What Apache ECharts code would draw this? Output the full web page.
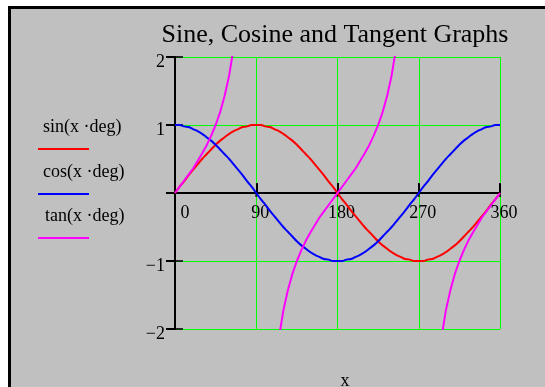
<!DOCTYPE html>
<html>
<head>
<meta charset="utf-8">
<script src="https://cdn.jsdelivr.net/npm/echarts@6/dist/echarts.min.js"></script>
<style>
  html, body { margin: 0; padding: 0; background: #fff; }
  .holder { position: relative; width: 545px; height: 387px; overflow: hidden; }
  .frame {
    position: absolute; left: 8px; top: 6px; right: 0; bottom: 0;
    border-left: 3px solid #000; border-top: 3px solid #000;
    background-color: #c0c0c0;
  }
  #trig-chart { position: absolute; left: 0; top: 0; width: 545px; height: 387px; }
</style>
</head>
<body>
<div class="holder">
  <div class="frame"></div>
  <div id="trig-chart"></div>
</div>
<script>
// x in degrees, 5 degree steps
var degrees = [
  0, 5, 10, 15, 20, 25, 30, 35, 40, 45, 50, 55, 60, 65, 70, 75, 80, 85,
  90, 95, 100, 105, 110, 115, 120, 125, 130, 135, 140, 145, 150, 155, 160, 165, 170, 175,
  180, 185, 190, 195, 200, 205, 210, 215, 220, 225, 230, 235, 240, 245, 250, 255, 260, 265,
  270, 275, 280, 285, 290, 295, 300, 305, 310, 315, 320, 325, 330, 335, 340, 345, 350, 355,
  360
];
var sinValues = [
  0, 0.09, 0.17, 0.26, 0.34, 0.42, 0.5, 0.57, 0.64, 0.71, 0.77, 0.82, 0.87, 0.91, 0.94, 0.97, 0.98, 1.0,
  1, 1.0, 0.98, 0.97, 0.94, 0.91, 0.87, 0.82, 0.77, 0.71, 0.64, 0.57, 0.5, 0.42, 0.34, 0.26, 0.17, 0.09,
  0, -0.09, -0.17, -0.26, -0.34, -0.42, -0.5, -0.57, -0.64, -0.71, -0.77, -0.82, -0.87, -0.91, -0.94, -0.97, -0.98, -1.0,
  -1, -1.0, -0.98, -0.97, -0.94, -0.91, -0.87, -0.82, -0.77, -0.71, -0.64, -0.57, -0.5, -0.42, -0.34, -0.26, -0.17, -0.09,
  0
];
var cosValues = [
  1, 1.0, 0.98, 0.97, 0.94, 0.91, 0.87, 0.82, 0.77, 0.71, 0.64, 0.57, 0.5, 0.42, 0.34, 0.26, 0.17, 0.09,
  0, -0.09, -0.17, -0.26, -0.34, -0.42, -0.5, -0.57, -0.64, -0.71, -0.77, -0.82, -0.87, -0.91, -0.94, -0.97, -0.98, -1.0,
  -1, -1.0, -0.98, -0.97, -0.94, -0.91, -0.87, -0.82, -0.77, -0.71, -0.64, -0.57, -0.5, -0.42, -0.34, -0.26, -0.17, -0.09,
  0, 0.09, 0.17, 0.26, 0.34, 0.42, 0.5, 0.57, 0.64, 0.71, 0.77, 0.82, 0.87, 0.91, 0.94, 0.97, 0.98, 1.0,
  1
];
// null = asymptote, line is broken there
var tanValues = [
  0, 0.09, 0.18, 0.27, 0.36, 0.47, 0.58, 0.70, 0.84, 1.0, 1.19, 1.43, 1.73, 2.14, 2.75, 3.73, 5.67, 11.43,
  null, -11.43, -5.67, -3.73, -2.75, -2.14, -1.73, -1.43, -1.19, -1.0, -0.84, -0.70, -0.58, -0.47, -0.36, -0.27, -0.18, -0.09,
  0, 0.09, 0.18, 0.27, 0.36, 0.47, 0.58, 0.70, 0.84, 1.0, 1.19, 1.43, 1.73, 2.14, 2.75, 3.73, 5.67, 11.43,
  null, -11.43, -5.67, -3.73, -2.75, -2.14, -1.73, -1.43, -1.19, -1.0, -0.84, -0.70, -0.58, -0.47, -0.36, -0.27, -0.18, -0.09,
  0
];
var xTicks = [90, 180, 270, 360];
var yTicks = [-2, -1, 1, 2];
var seriesNames = ["sin(x ·deg)", "cos(x ·deg)", "tan(x ·deg)"];
var seriesColors = ["#ff0000", "#0000ff", "#ff00ff"];
var titleText = "Sine, Cosine and Tangent Graphs";
var xName = "x";

var serif = '"Liberation Serif", "Times New Roman", serif';

function pairs(vals) {
  var out = [];
  for (var i = 0; i < degrees.length; i++) {
    out.push([degrees[i], vals[i]]);
  }
  return out;
}

var chart = echarts.init(document.getElementById("trig-chart"), null, { renderer: "canvas" });

var legendGraphics = [];
var legendY = [127, 172, 216];
var legendX = [43, 43, 45];
for (var k = 0; k < seriesNames.length; k++) {
  legendGraphics.push({
    type: "text",
    x: legendX[k],
    y: legendY[k],
    style: { text: seriesNames[k], font: "18px " + serif, fill: "#000", align: "left", verticalAlign: "middle" }
  });
  legendGraphics.push({
    type: "line",
    shape: { x1: 38, y1: legendY[k] + 22, x2: 89, y2: legendY[k] + 22 },
    style: { stroke: seriesColors[k], lineWidth: 2 }
  });
}

var gridH = 272;

var option = {
  animation: false,
  backgroundColor: "transparent",
  grid: { left: 175, top: 57, width: 325, height: gridH, containLabel: false },
  graphic: [
    {
      type: "text",
      x: 335,
      y: 35,
      style: { text: titleText, font: "26px " + serif, fill: "#000", align: "center", verticalAlign: "middle" }
    },
    {
      type: "text",
      x: 345,
      y: 381,
      style: { text: xName, font: "18px " + serif, fill: "#000", align: "center", verticalAlign: "middle" }
    }
  ].concat(legendGraphics),
  xAxis: {
    type: "value",
    min: 0,
    max: 360,
    interval: 90,
    position: "bottom",
    // move the axis up to y = 0 (middle of the grid)
    offset: -gridH / 2,
    axisLine: { onZero: false, lineStyle: { color: "#000", width: 2 } },
    axisTick: { show: true, inside: true, length: 10, lineStyle: { color: "#000", width: 2 } },
    axisLabel: {
      margin: 11,
      color: "#000",
      fontFamily: serif,
      fontSize: 18,
      formatter: function (v) {
        return v === 0 ? "{z|0}" : "{n|" + v + "}";
      },
      rich: {
        z: { fontFamily: serif, fontSize: 18, color: "#000", padding: [0, 0, 0, 20] },
        n: { fontFamily: serif, fontSize: 18, color: "#000", padding: [0, 0, 0, 8] }
      }
    },
    splitLine: { show: true, lineStyle: { color: "#00ff00", width: 1 } }
  },
  yAxis: {
    type: "value",
    min: -2,
    max: 2,
    interval: 1,
    axisLine: { onZero: false, lineStyle: { color: "#000", width: 2 } },
    axisTick: { show: true, inside: false, length: 9, lineStyle: { color: "#000", width: 2 } },
    axisLabel: {
      margin: 10,
      color: "#000",
      fontFamily: serif,
      fontSize: 18,
      verticalAlign: "top",
      lineHeight: 10,
      formatter: function (v) {
        if (v === 0) return "";
        return v < 0 ? "\u2212" + Math.abs(v) : String(v);
      }
    },
    splitLine: { show: true, lineStyle: { color: "#00ff00", width: 1 } }
  },
  series: [
    {
      name: seriesNames[0],
      type: "line",
      data: pairs(sinValues),
      showSymbol: false,
      smooth: true,
      lineStyle: { color: seriesColors[0], width: 2 },
      z: 3
    },
    {
      name: seriesNames[1],
      type: "line",
      data: pairs(cosValues),
      showSymbol: false,
      smooth: true,
      lineStyle: { color: seriesColors[1], width: 2 },
      z: 4
    },
    {
      name: seriesNames[2],
      type: "line",
      data: pairs(tanValues),
      showSymbol: false,
      connectNulls: false,
      clip: true,
      lineStyle: { color: seriesColors[2], width: 2 },
      z: 5
    },
    {
      // inner half of the y-axis ticks (ticks cross the axis line)
      type: "scatter",
      data: yTicks.map(function (v) { return [0, v]; }),
      symbol: "rect",
      symbolSize: [8, 2],
      symbolOffset: [4, 0],
      clip: false,
      silent: true,
      itemStyle: { color: "#000" },
      z: 2
    },
    {
      // lower half of the x-axis ticks
      type: "scatter",
      data: xTicks.map(function (v) { return [v, 0]; }),
      symbol: "rect",
      symbolSize: [2, 4],
      symbolOffset: [0, 2],
      clip: false,
      silent: true,
      itemStyle: { color: "#000" },
      z: 2
    }
  ]
};

chart.setOption(option);
</script>
</body>
</html>
